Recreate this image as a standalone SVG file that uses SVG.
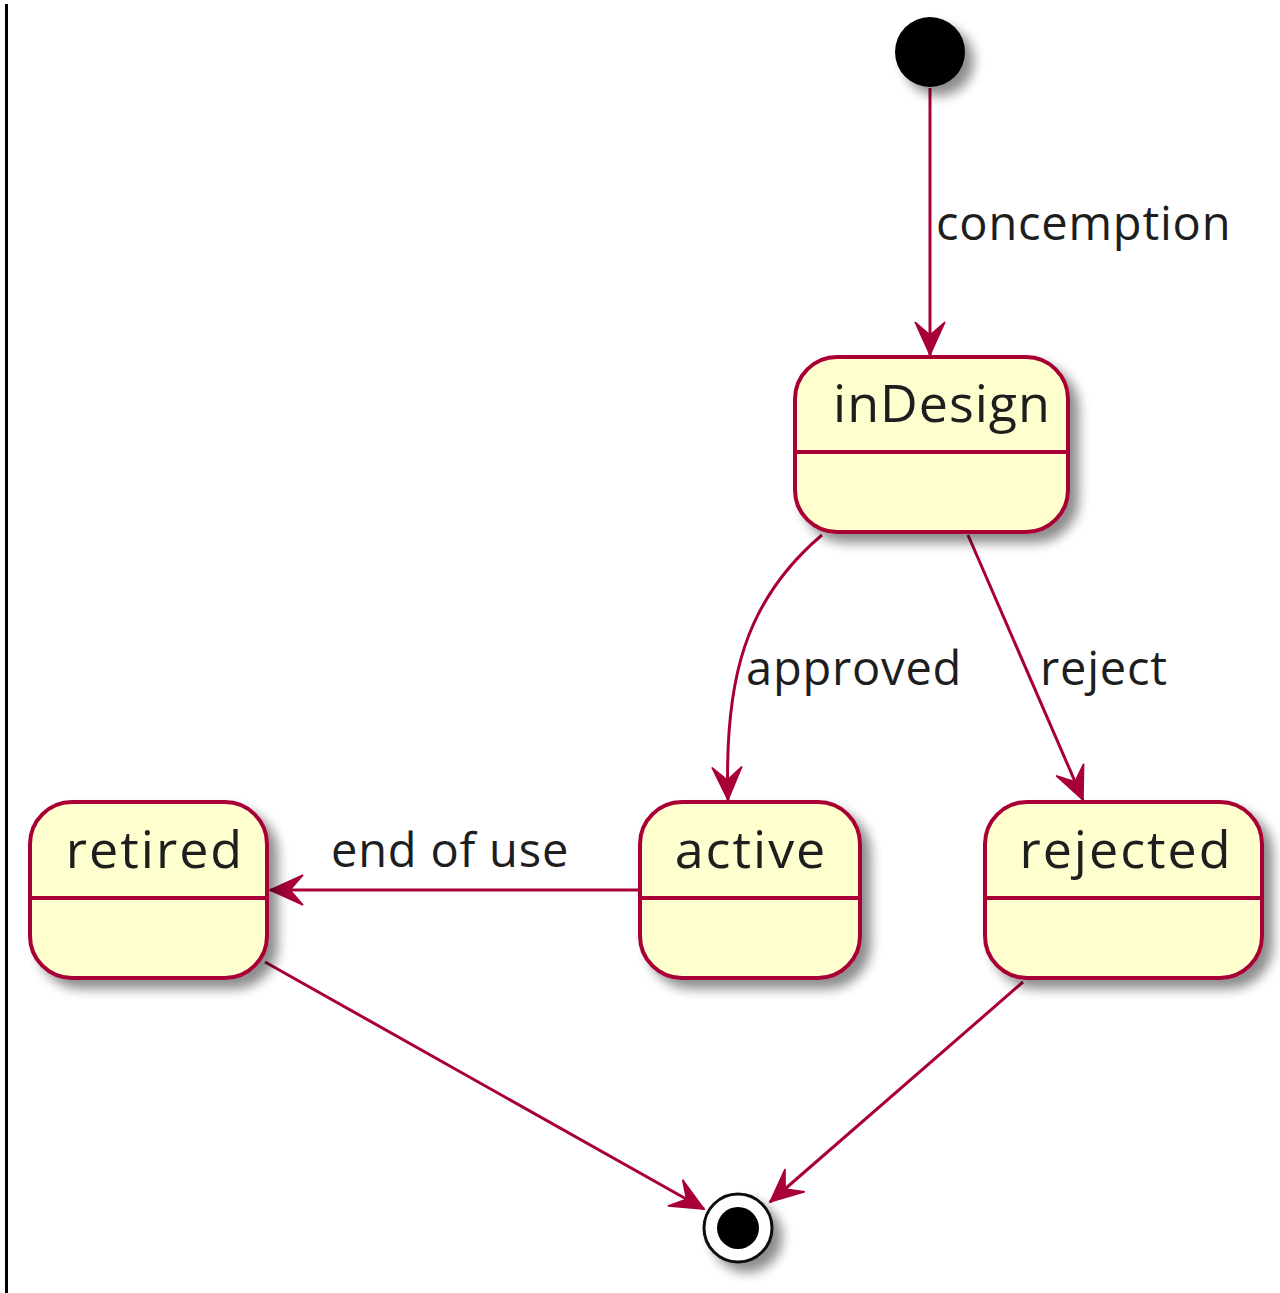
<svg xmlns="http://www.w3.org/2000/svg" width="1280" height="1293" viewBox="0 0 1280 1293">
<style>
.state rect{fill:#FEFECE;stroke:#A80036;stroke-width:4}
.state line{stroke:#A80036;stroke-width:4}
.name{font-family:"Open Sans","Noto Sans",sans-serif;font-size:52px;letter-spacing:2px;fill:#1e1e1e;text-anchor:middle}
.lbl{font-family:"Open Sans","Noto Sans",sans-serif;font-size:47px;letter-spacing:0.8px;fill:#1e1e1e}
.edge{fill:none;stroke:#A80036;stroke-width:3;marker-end:url(#arr)}
</style>
<defs>
<filter id="sh" x="-20%" y="-20%" width="150%" height="150%">
<feGaussianBlur in="SourceAlpha" stdDeviation="6"/>
<feOffset dx="9" dy="9" result="b"/>
<feComponentTransfer><feFuncA type="linear" slope="0.45"/></feComponentTransfer>
<feMerge><feMergeNode/><feMergeNode in="SourceGraphic"/></feMerge>
</filter>
<marker id="arr" markerUnits="userSpaceOnUse" markerWidth="40" markerHeight="40" viewBox="-36 -18 40 36" refX="0" refY="0" orient="auto">
<path d="M0,0 L-33,-15 L-20,0 L-33,15 Z" fill="#A80036" stroke="#A80036" stroke-width="1.5"/>
</marker>
</defs>
<rect x="5" y="4" width="3" height="1289" fill="#000"/>
<g id="connectors">
<path class="edge" d="M930,88 L930,355"/>
<path class="edge" d="M822,535 C745,600 724,680 728,800"/>
<path class="edge" d="M968,535 L1083,800"/>
<path class="edge" d="M640,890 L270,890"/>
<path class="edge" d="M265,962 L704,1209"/>
<path class="edge" d="M1023,982 L770,1202"/>
<text class="lbl" x="936" y="240">concemption</text>
<text class="lbl" x="746" y="685">approved</text>
<text class="lbl" x="1040" y="685">reject</text>
<text class="lbl" x="331" y="867">end of use</text>
</g>
<g id="start"><circle cx="930" cy="52" r="35" fill="#000" filter="url(#sh)"/></g>
<g id="inDesign" class="state"><rect x="795" y="357" width="273" height="175" rx="42" filter="url(#sh)"/><line x1="795" y1="452" x2="1068" y2="452"/><text class="name" x="942" y="422" style="letter-spacing:1px">inDesign</text></g>
<g id="active" class="state"><rect x="640" y="802" width="220" height="176" rx="42" filter="url(#sh)"/><line x1="640" y1="898" x2="860" y2="898"/><text class="name" x="751" y="868">active</text></g>
<g id="rejected" class="state"><rect x="985" y="802" width="277" height="176" rx="42" filter="url(#sh)"/><line x1="985" y1="898" x2="1262" y2="898"/><text class="name" x="1126" y="868">rejected</text></g>
<g id="retired" class="state"><rect x="30" y="802" width="237" height="176" rx="42" filter="url(#sh)"/><line x1="30" y1="898" x2="267" y2="898"/><text class="name" x="155" y="868">retired</text></g>
<g id="end"><circle cx="738" cy="1228" r="34" fill="#fff" stroke="#111" stroke-width="3" filter="url(#sh)"/><circle cx="738" cy="1228" r="21" fill="#000"/></g>
</svg>
